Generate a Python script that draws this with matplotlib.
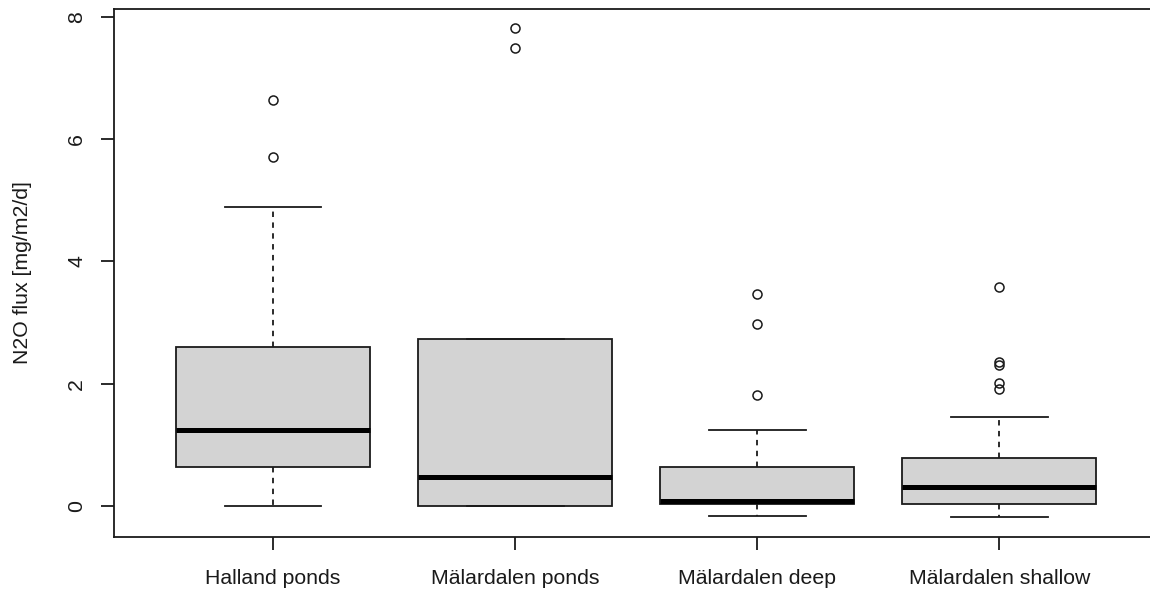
import matplotlib.pyplot as plt

plt.rcParams['font.family'] = ['Liberation Sans', 'DejaVu Sans']

# box statistics per site group (N2O flux, mg/m2/d)
sites = ['Halland ponds', 'Mälardalen ponds', 'Mälardalen deep', 'Mälardalen shallow']
q1 = [0.63, 0.0, 0.03, 0.03]
med = [1.24, 0.47, 0.09, 0.31]
q3 = [2.60, 2.73, 0.64, 0.78]
whis_lo = [0.0, 0.0, -0.16, -0.18]
whis_hi = [4.89, 2.73, 1.24, 1.46]
outliers = [
    [6.64, 5.71],
    [7.82, 7.49],
    [3.47, 2.97, 1.82],
    [3.59, 2.36, 2.31, 2.01, 1.91],
]

stats = []
for i, name in enumerate(sites):
    stats.append({
        'label': name,
        'q1': q1[i],
        'med': med[i],
        'q3': q3[i],
        'whislo': whis_lo[i],
        'whishi': whis_hi[i],
        'fliers': outliers[i],
    })

fig = plt.figure(figsize=(11.5, 5.9), dpi=100)
# plot region ends just past the right edge of the figure
ax = fig.add_axes([114 / 1150, 53 / 590, 1045 / 1150, 528 / 590])

line = '#1a1a1a'
ax.bxp(
    stats,
    widths=0.8,
    capwidths=0.4,
    patch_artist=True,
    boxprops=dict(facecolor='#d3d3d3', edgecolor=line, linewidth=1.3),
    medianprops=dict(color='black', linewidth=3.6, solid_capstyle='butt'),
    whiskerprops=dict(color=line, linewidth=1.3, linestyle=(0, (3, 3))),
    capprops=dict(color=line, linewidth=1.3),
    flierprops=dict(marker='o', markerfacecolor='none', markeredgecolor=line,
                    markersize=6.5, markeredgewidth=1.1),
)

ax.set_xlim(0.343, 4.66)
ax.set_ylim(-0.507, 8.13)
ax.set_yticks([0, 2, 4, 6, 8])
ax.set_yticklabels(['0', '2', '4', '6', '8'], rotation=90, va='center')

for s in ax.spines.values():
    s.set_color(line)
    s.set_linewidth(1.3)

ax.tick_params(axis='both', direction='out', length=9.5, width=1.3,
               color=line, labelsize=15.3, labelcolor='#1a1a1a')
ax.tick_params(axis='y', pad=10.5)
ax.tick_params(axis='x', pad=13.5)

ax.set_ylabel('N2O flux [mg/m2/d]', fontsize=15.3, color='#1a1a1a')
ax.yaxis.set_label_coords(-0.078, 0.5)

fig.savefig('out.png', dpi=100)
